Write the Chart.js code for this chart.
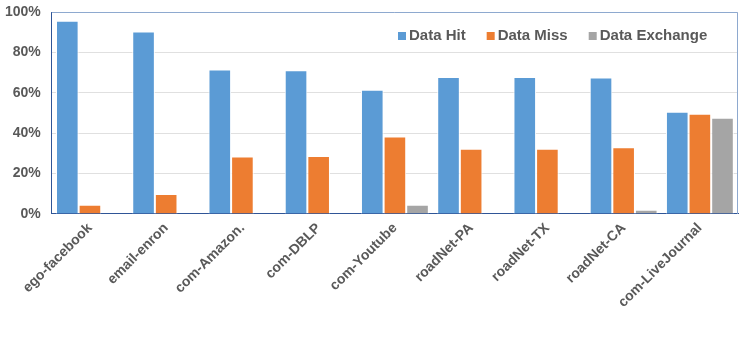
<!DOCTYPE html>
<html>
<head>
<meta charset="utf-8">
<script src="https://cdn.jsdelivr.net/npm/chart.js@4"></script>
<style>
  html, body { margin: 0; padding: 0; background: #fff; }
  #wrap { width: 747px; height: 346px; position: relative; }
</style>
</head>
<body>
<div id="wrap"><canvas id="hitChart"></canvas></div>
<script>
const categories = ['ego-facebook', 'email-enron', 'com-Amazon.', 'com-DBLP', 'com-Youtube',
    'roadNet-PA', 'roadNet-TX', 'roadNet-CA', 'com-LiveJournal'];
const dataHit = [95.7, 90.4, 71.5, 71.1, 61.5, 67.8, 67.8, 67.5, 50.6];
const dataMiss = [4.5, 9.8, 28.4, 28.7, 38.3, 32.3, 32.3, 33.0, 49.6];
const dataExchange = [0, 0, 0, 0, 4.5, 0, 0, 2.1, 47.6];
const yTicks = [0, 20, 40, 60, 80, 100];

const FONT = "'Liberation Sans', Arial, sans-serif";
const TEXT = '#595959';

// legend drawn inside the plot, top right
const insideLegend = {
    id: 'insideLegend',
    afterDatasetsDraw(chart) {
        const ctx = chart.ctx;
        const area = chart.chartArea;
        ctx.save();
        ctx.font = 'bold 15px ' + FONT;
        ctx.textBaseline = 'middle';
        const y = area.top + 24;
        let x = 398;
        chart.data.datasets.forEach(ds => {
            ctx.fillStyle = ds.backgroundColor;
            ctx.fillRect(x, y - 4, 8, 8);
            ctx.fillStyle = TEXT;
            ctx.fillText(ds.label, x + 11, y);
            x += 11 + ctx.measureText(ds.label).width + 21;
        });
        ctx.restore();
    }
};

// thin frame around the plot area
const plotFrame = {
    id: 'plotFrame',
    afterDraw(chart) {
        const ctx = chart.ctx;
        const a = chart.chartArea;
        ctx.save();
        ctx.strokeStyle = '#8ea9cf';
        ctx.lineWidth = 1;
        ctx.beginPath();
        ctx.moveTo(a.left, a.top + 0.5);
        ctx.lineTo(a.right - 0.5, a.top + 0.5);
        ctx.lineTo(a.right - 0.5, a.bottom);
        ctx.stroke();
        ctx.restore();
    }
};

const canvas = document.getElementById('hitChart');
canvas.width = 747;
canvas.height = 346;
new Chart(canvas.getContext('2d'), {
    type: 'bar',
    data: {
        labels: categories,
        datasets: [
            { label: 'Data Hit', data: dataHit, backgroundColor: '#5b9bd5', borderColor: '#ffffff', borderWidth: { left: 1, right: 1, top: 1 } },
            { label: 'Data Miss', data: dataMiss, backgroundColor: '#ed7d31', borderColor: '#ffffff', borderWidth: { left: 1, right: 1, top: 1 } },
            { label: 'Data Exchange', data: dataExchange, backgroundColor: '#a5a5a5', borderColor: '#ffffff', borderWidth: { left: 1, right: 1, top: 1 } }
        ]
    },
    options: {
        responsive: false,
        animation: false,
        layout: { padding: { top: 0, right: 9, bottom: 29, left: -6 } },
        datasets: {
            bar: { categoryPercentage: 0.89, barPercentage: 1.0 }
        },
        scales: {
            x: {
                grid: { display: false, drawTicks: false },
                border: { color: '#2f5597', width: 1 },
                ticks: {
                    color: TEXT,
                    font: { family: FONT, size: 14, weight: 'bold' },
                    maxRotation: 45,
                    minRotation: 45,
                    padding: 6
                }
            },
            y: {
                min: 0,
                max: 100,
                afterBuildTicks(scale) {
                    scale.ticks = yTicks.map(v => ({ value: v }));
                },
                afterFit(scale) {
                    scale.paddingTop = 12;
                },
                grid: { color: '#e0e0e0', drawTicks: false },
                border: { color: '#2f5597', width: 1 },
                ticks: {
                    color: TEXT,
                    font: { family: FONT, size: 14, weight: 'bold' },
                    padding: 11,
                    callback: v => v + '%'
                }
            }
        },
        plugins: {
            legend: { display: false },
            tooltip: { enabled: false }
        }
    },
    plugins: [insideLegend, plotFrame]
});
</script>
</body>
</html>
